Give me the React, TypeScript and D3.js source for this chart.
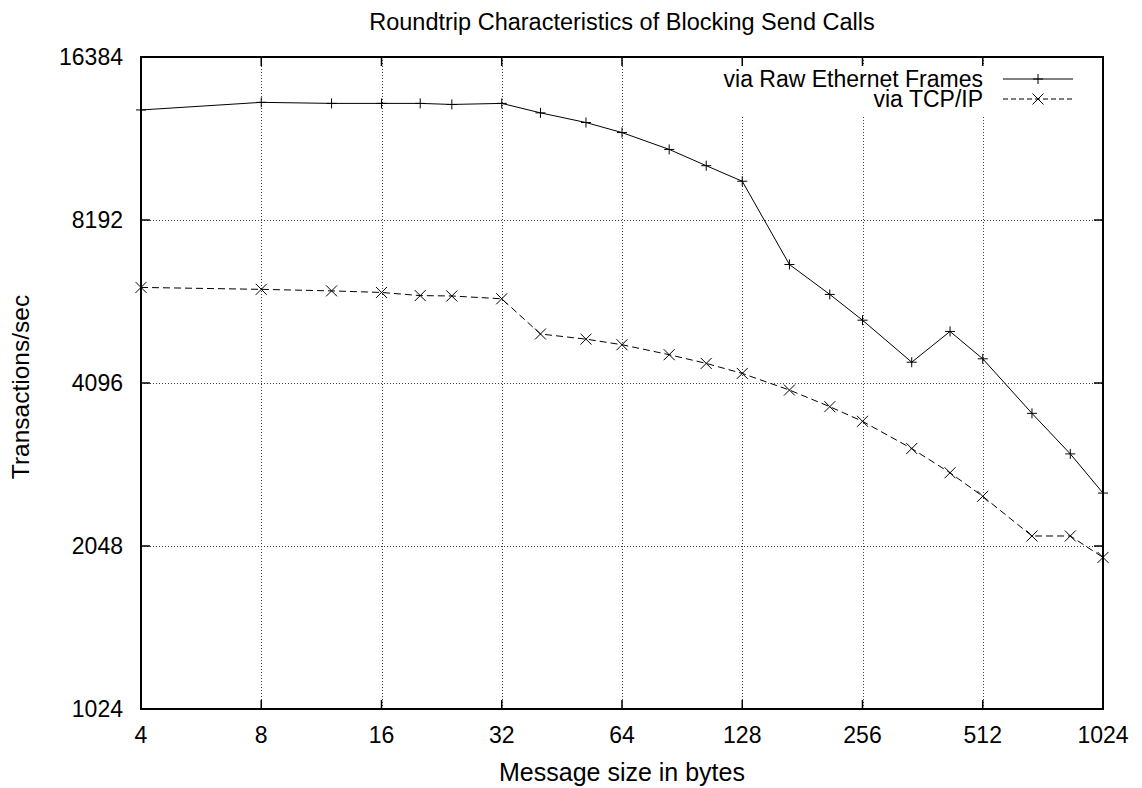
import React from 'react';
import * as d3 from 'd3';

// message sizes in bytes (x) and measured transactions/sec (y)
const sizes = [4, 8, 12, 16, 20, 24, 32, 40, 52, 64, 84, 104, 128, 168, 212, 256, 340, 424, 512, 680, 848, 1024];
const rawEthernet = [13080, 13510, 13450, 13450, 13450, 13390, 13450, 12920, 12400, 11880, 11060, 10320, 9660, 6780, 5970, 5350, 4475, 5100, 4540, 3600, 3030, 2565];
const tcpIp = [6150, 6100, 6060, 6020, 5940, 5930, 5860, 5045, 4936, 4820, 4620, 4452, 4266, 3975, 3704, 3480, 3100, 2796, 2530, 2137, 2137, 1951];

const xTicks = [4, 8, 16, 32, 64, 128, 256, 512, 1024];
const yTicks = [1024, 2048, 4096, 8192, 16384];

const title = 'Roundtrip Characteristics of Blocking Send Calls';
const xLabel = 'Message size in bytes';
const yLabel = 'Transactions/sec';
const seriesNames = ['via Raw Ethernet Frames', 'via TCP/IP'];

const W = 1142;
const H = 788;
const margin = { top: 57, right: 39, bottom: 79, left: 141 };
const font = '"Liberation Sans", Arial, sans-serif';
const fs = 23;

function Plus({ x, y }: { x: number; y: number }) {
  const s = 5;
  return <path d={`M${x - s},${y}H${x + s}M${x},${y - s}V${y + s}`} stroke="#000" strokeWidth={1} fill="none" />;
}

function Cross({ x, y }: { x: number; y: number }) {
  const s = 5.5;
  return <path d={`M${x - s},${y - s}L${x + s},${y + s}M${x - s},${y + s}L${x + s},${y - s}`} stroke="#000" strokeWidth={1} fill="none" />;
}

export default function App() {
  const x = d3.scaleLog().base(2).domain([4, 1024]).range([margin.left, W - margin.right]);
  const y = d3.scaleLog().base(2).domain([1024, 16384]).range([H - margin.bottom, margin.top]);
  const x0 = margin.left, x1 = W - margin.right, y0 = H - margin.bottom, y1 = margin.top;
  const tick = 9;

  const rawPts = sizes.map((s, i) => [x(s), y(rawEthernet[i])] as [number, number]);
  const tcpPts = sizes.map((s, i) => [x(s), y(tcpIp[i])] as [number, number]);
  const lineGen = d3.line();

  // legend layout
  const legTextX = 983;
  const legRows = [79, 99];
  const sampleX0 = 1003, sampleX1 = 1073;

  return (
    <div style={{ position: 'absolute', left: 0, top: 0 }}>
      <svg width={W} height={H} style={{ display: 'block', background: '#fff' }}>
        {/* grid */}
        <g stroke="#000" strokeWidth={1} strokeDasharray="1,2" opacity={0.75}>
          {xTicks.slice(1, -1).map(t => (
            <line key={'gx' + t} x1={Math.round(x(t)) + 0.5} x2={Math.round(x(t)) + 0.5} y1={y1} y2={y0} />
          ))}
          {yTicks.slice(1, -1).map(t => (
            <line key={'gy' + t} x1={x0} x2={x1} y1={Math.round(y(t)) + 0.5} y2={Math.round(y(t)) + 0.5} />
          ))}
        </g>

        {/* key background */}
        <rect x={700} y={66} width={396} height={51} fill="#fff" />

        {/* border and ticks */}
        <rect x={x0} y={y1} width={x1 - x0} height={y0 - y1} fill="none" stroke="#000" strokeWidth={2} />
        <g stroke="#000" strokeWidth={1.5}>
          {xTicks.map(t => (
            <g key={'tx' + t}>
              <line x1={x(t)} x2={x(t)} y1={y0} y2={y0 - tick} />
              <line x1={x(t)} x2={x(t)} y1={y1} y2={y1 + tick} />
            </g>
          ))}
          {yTicks.map(t => (
            <g key={'ty' + t}>
              <line x1={x0} x2={x0 + tick} y1={y(t)} y2={y(t)} />
              <line x1={x1} x2={x1 - tick} y1={y(t)} y2={y(t)} />
            </g>
          ))}
        </g>

        {/* tick labels */}
        <g fontFamily={font} fontSize={fs} fill="#000">
          {xTicks.map(t => (
            <text key={'lx' + t} x={x(t)} y={y0 + 34} textAnchor="middle">{t}</text>
          ))}
          {yTicks.map(t => (
            <text key={'ly' + t} x={x0 - 18} y={y(t)} dy="0.35em" textAnchor="end">{t}</text>
          ))}
          <text x={(x0 + x1) / 2} y={30} textAnchor="middle" fontSize={23.5}>{title}</text>
          <text x={(x0 + x1) / 2} y={H - 7} textAnchor="middle" fontSize={25}>{xLabel}</text>
          <text transform={`translate(29,${(y0 + y1) / 2 + 4}) rotate(-90)`} textAnchor="middle" fontSize={24.5}>{yLabel}</text>
          {seriesNames.map((n, i) => (
            <text key={n} x={legTextX} y={legRows[i]} dy="0.35em" textAnchor="end">{n}</text>
          ))}
        </g>

        {/* series */}
        <path d={lineGen(rawPts) || ''} fill="none" stroke="#000" strokeWidth={1} />
        <path d={lineGen(tcpPts) || ''} fill="none" stroke="#000" strokeWidth={1} strokeDasharray="7,4" />
        {rawPts.map((p, i) => <Plus key={'p' + i} x={p[0]} y={p[1]} />)}
        {tcpPts.map((p, i) => <Cross key={'c' + i} x={p[0]} y={p[1]} />)}

        {/* key samples */}
        <line x1={sampleX0} x2={sampleX1} y1={legRows[0]} y2={legRows[0]} stroke="#000" strokeWidth={1} />
        <Plus x={(sampleX0 + sampleX1) / 2} y={legRows[0]} />
        <line x1={sampleX0} x2={sampleX1} y1={legRows[1]} y2={legRows[1]} stroke="#000" strokeWidth={1} strokeDasharray="5,3" />
        <Cross x={(sampleX0 + sampleX1) / 2} y={legRows[1]} />
      </svg>
    </div>
  );
}
